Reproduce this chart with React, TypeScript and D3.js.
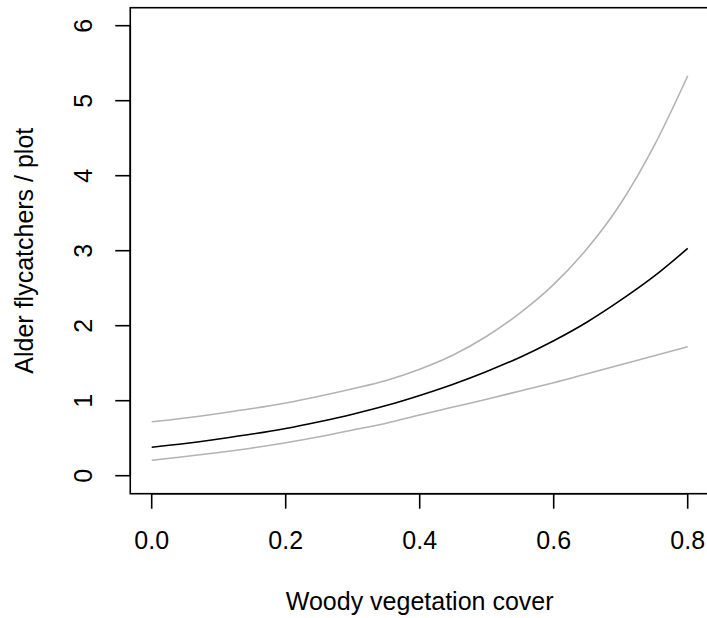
import React from 'react';
import { scaleLinear, line, curveMonotoneX } from 'd3';

// woody vegetation cover (x) and fitted counts
const cover = [
  0, 0.05, 0.1, 0.15, 0.2, 0.25, 0.3, 0.35, 0.4, 0.45, 0.5, 0.55, 0.6, 0.65, 0.7, 0.75, 0.8,
];
const fitted = [
  0.38, 0.43, 0.49, 0.555, 0.63, 0.72, 0.82, 0.935, 1.07, 1.22, 1.39, 1.58, 1.8, 2.05, 2.34, 2.66, 3.03,
];
const upper = [
  0.72, 0.77, 0.83, 0.895, 0.97, 1.06, 1.16, 1.27, 1.42, 1.61, 1.86, 2.17, 2.55, 3.03, 3.63, 4.4, 5.33,
];
const lower = [
  0.205, 0.255, 0.31, 0.37, 0.44, 0.52, 0.61, 0.7, 0.81, 0.915, 1.02, 1.13, 1.24, 1.36, 1.48, 1.6, 1.72,
];

const xTicks = [0, 0.2, 0.4, 0.6, 0.8];
const yTicks = [0, 1, 2, 3, 4, 5, 6];

const W = 707;
const H = 618;
const FONT = '"Liberation Sans", Arial, Helvetica, sans-serif';

export default function App() {
  const x = scaleLinear().domain([0, 0.8]).range([151.7, 687.7]);
  const y = scaleLinear().domain([0, 6]).range([475.7, 25.7]);

  // R style 4% padding round the data range
  const left = x(-0.032);
  const right = x(0.832);
  const top = y(6.24);
  const bottom = y(-0.24);

  const path = (vals: number[]) =>
    line<number>()
      .x((_, i) => x(cover[i]))
      .y(v => y(v))
      .curve(curveMonotoneX)(vals) as string;

  return (
    <svg
      width={W}
      height={H}
      style={{ position: 'absolute', left: 0, top: 0, background: '#fff' }}
      fontFamily={FONT}
    >
      <path d={path(upper)} fill='none' stroke='#b3b3b3' strokeWidth={1.6} />
      <path d={path(lower)} fill='none' stroke='#b3b3b3' strokeWidth={1.6} />
      <path d={path(fitted)} fill='none' stroke='#000' strokeWidth={1.6} />

      <rect
        x={left}
        y={top}
        width={right - left}
        height={bottom - top}
        fill='none'
        stroke='#000'
        strokeWidth={1.6}
      />

      {/* x axis */}
      <line x1={x(0)} x2={x(0.8)} y1={bottom} y2={bottom} stroke='#000' strokeWidth={1.6} />
      {xTicks.map(t => (
        <g key={t}>
          <line x1={x(t)} x2={x(t)} y1={bottom} y2={bottom + 15} stroke='#000' strokeWidth={1.6} />
          <text x={x(t)} y={549} textAnchor='middle' fontSize={25}>
            {t.toFixed(1)}
          </text>
        </g>
      ))}

      {/* y axis */}
      <line x1={left} x2={left} y1={y(0)} y2={y(6)} stroke='#000' strokeWidth={1.6} />
      {yTicks.map(t => (
        <g key={t}>
          <line x1={left - 15} x2={left} y1={y(t)} y2={y(t)} stroke='#000' strokeWidth={1.6} />
          <text
            transform={`translate(92,${y(t)}) rotate(-90)`}
            textAnchor='middle'
            fontSize={25}
          >
            {t}
          </text>
        </g>
      ))}

      <text x={(left + right) / 2} y={610} textAnchor='middle' fontSize={25}>
        Woody vegetation cover
      </text>
      <text
        transform={`translate(33,${(top + bottom) / 2}) rotate(-90)`}
        textAnchor='middle'
        fontSize={25}
      >
        Alder flycatchers / plot
      </text>
    </svg>
  );
}
